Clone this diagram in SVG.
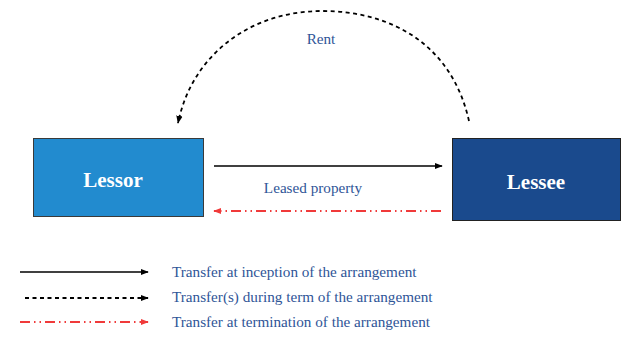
<svg xmlns="http://www.w3.org/2000/svg" width="638" height="360" viewBox="0 0 638 360">
  <style>
    .lbl { font-family: "Liberation Serif", "Times New Roman", serif; font-size: 15.2px; fill: #2F5597; }
    .node-text { font-family: "Liberation Serif", "Times New Roman", serif; font-size: 21px; font-weight: bold; fill: #ffffff; text-anchor: middle; }
    .solid { stroke: #000; stroke-width: 1.3; fill: none; }
    .dashed { stroke: #000; stroke-width: 1.8; fill: none; stroke-dasharray: 4 3.5; }
    .term { stroke: #F03A3A; stroke-width: 1.8; fill: none; stroke-dasharray: 10 4 1.5 4 1.5 4; }
  </style>
  <defs>
    <marker id="ah-black" viewBox="0 0 10 10" refX="9" refY="5" markerWidth="8" markerHeight="8" markerUnits="userSpaceOnUse" orient="auto">
      <path d="M0,1 L10,5 L0,9 Z" fill="#000"/>
    </marker>
    <marker id="ah-red" viewBox="0 0 10 10" refX="9" refY="5" markerWidth="8" markerHeight="8" markerUnits="userSpaceOnUse" orient="auto">
      <path d="M0,1 L10,5 L0,9 Z" fill="#F03A3A"/>
    </marker>
  </defs>

  <g id="lessor">
    <rect x="33.5" y="138.5" width="170" height="78" fill="#228BCF" stroke="#3a3a3a" stroke-width="1"/>
    <text class="node-text" x="113" y="187">Lessor</text>
  </g>

  <g id="lessee">
    <rect x="452.5" y="138.5" width="168" height="82" fill="#1A4A8D" stroke="#222" stroke-width="1"/>
    <text class="node-text" x="536" y="189">Lessee</text>
  </g>

  <g id="connectors">
    <path class="dashed" d="M469,121 C452,45 392,11 322,11 C250,11 192,55 178,123" marker-end="url(#ah-black)"/>
    <text class="lbl" x="321" y="44" text-anchor="middle">Rent</text>
    <line class="solid" x1="214" y1="166" x2="442" y2="166" marker-end="url(#ah-black)"/>
    <text class="lbl" x="313" y="193" text-anchor="middle">Leased property</text>
    <line class="term" x1="441" y1="211" x2="214" y2="211" marker-end="url(#ah-red)"/>
  </g>

  <g id="legend">
    <line class="solid" x1="20" y1="272" x2="148" y2="272" stroke-width="1.8" marker-end="url(#ah-black)"/>
    <text class="lbl" x="172" y="277">Transfer at inception of the arrangement</text>
    <line class="dashed" x1="25" y1="298" x2="148" y2="298" marker-end="url(#ah-black)"/>
    <text class="lbl" x="172" y="302">Transfer(s) during term of the arrangement</text>
    <line class="term" x1="20" y1="322" x2="148" y2="322" marker-end="url(#ah-red)"/>
    <text class="lbl" x="172" y="327">Transfer at termination of the arrangement</text>
  </g>
</svg>
